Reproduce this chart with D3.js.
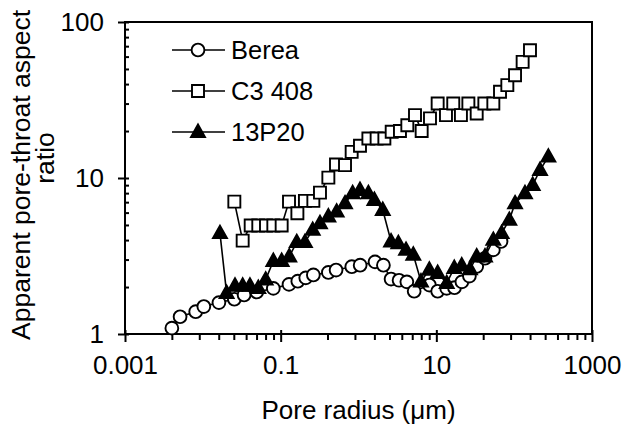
<!DOCTYPE html>
<html>
<head>
<meta charset="utf-8">
<script src="https://cdn.jsdelivr.net/npm/d3@7"></script>
<style>
  html, body { margin: 0; padding: 0; background: #fff; }
  svg { display: block; }
  text { font-family: "Liberation Sans", Arial, sans-serif; fill: #000; }
</style>
</head>
<body>
<svg id="chart" width="632" height="434"></svg>
<script>
// ---------- data ----------
const seriesNames = ["Berea", "C3 408", "13P20"];

const bereaX = [0.0040,0.0051,0.0081,0.0103,0.0161,0.0254,0.0339,0.0493,0.0805,0.128,0.166,0.210,0.263,0.410,0.515,0.82,1.05,1.63,2.09,2.62,3.32,4.18,5.19,8.15,10.4,13.6,17.1,21.3,26.6,33.0,42.2,54.0,67.8];
const bereaY = [1.09,1.29,1.39,1.50,1.59,1.67,1.78,1.86,1.96,2.08,2.18,2.29,2.39,2.48,2.57,2.70,2.76,2.90,2.76,2.25,2.21,2.16,1.88,2.06,1.88,1.96,1.98,2.16,2.35,2.71,3.06,3.46,3.92];

const c3X = [0.0254,0.0325,0.0412,0.0516,0.0648,0.0805,0.103,0.128,0.164,0.205,0.263,0.320,0.410,0.514,0.671,0.817,1.045,1.34,1.71,2.15,2.67,3.41,4.24,5.32,6.48,8.29,10.4,13.3,16.5,20.7,25.8,33.0,41.4,54.0,65.8,81.7,102.6,128.5,159.7];
const c3Y = [7.06,3.97,4.96,4.96,4.96,4.96,4.96,7.06,5.94,7.13,7.13,8.06,10.05,12.2,12.1,14.7,16.1,17.9,17.9,17.9,19.8,20.0,21.8,25.3,20.0,24.1,30.0,25.3,30.0,25.3,30.0,25.9,30.0,30.0,35.7,39.4,45.6,55.5,65.9];

const p13X = [0.0166,0.0202,0.0259,0.0325,0.0403,0.0516,0.0642,0.0805,0.103,0.129,0.161,0.205,0.258,0.320,0.410,0.524,0.671,0.841,1.045,1.34,1.60,2.05,2.62,3.25,4.08,5.06,6.35,8.13,10.4,13.6,17.0,21.2,27.1,33.0,42.2,54.0,69.0,86.7,102.6,137.7,173,215,275];
const p13Y = [4.43,1.83,2.04,2.04,2.04,1.97,2.23,2.94,2.94,3.14,3.88,3.88,4.65,5.13,5.66,6.09,6.88,7.98,8.38,7.98,7.23,6.24,3.92,3.82,3.46,3.22,2.17,2.58,2.46,2.12,2.65,2.75,2.6,3.14,3.14,4.01,4.43,5.39,6.88,7.98,9.02,11.25,13.7];

const xTickValues = [0.001, 0.1, 10, 1000];
const xTickLabels = ["0.001", "0.1", "10", "1000"];
const yTickValues = [1, 10, 100];
const yTickLabels = ["1", "10", "100"];
const xTitle = "Pore radius (\u03bcm)";
const yTitleLines = ["Apparent pore-throat aspect", "ratio"];

// ---------- layout ----------
const L = 125, R = 592, T = 22, B = 334;
const svg = d3.select("#chart");
svg.append("rect").attr("width", 632).attr("height", 434).attr("fill", "#fff");

const x = d3.scaleLog().domain([0.001, 1000]).range([L, R]);
const y = d3.scaleLog().domain([1, 100]).range([B, T]);

// minor ticks
const xMinor = [];
[0.001, 0.1, 10].forEach(m => { for (let k = 2; k <= 9; k++) xMinor.push(m * k * k); });
const yMinor = [];
[1, 10].forEach(m => { for (let k = 2; k <= 9; k++) yMinor.push(m * k); });

const FS = 26;

// x axis
const gx = svg.append("g").attr("transform", `translate(0,${B})`)
  .call(d3.axisBottom(x).tickValues(xTickValues).tickFormat((d, i) => xTickLabels[i])
    .tickSizeInner(8).tickSizeOuter(0).tickPadding(14));
gx.select(".domain").remove();
gx.selectAll(".tick line").attr("y1", -4).attr("stroke", "#000").attr("stroke-width", 2);
gx.selectAll(".tick text").attr("font-size", FS).attr("font-family", "Liberation Sans, Arial, sans-serif").attr("fill", "#000");

const gxm = svg.append("g").attr("transform", `translate(0,${B})`)
  .call(d3.axisBottom(x).tickValues(xMinor).tickFormat("").tickSizeInner(6).tickSizeOuter(0));
gxm.select(".domain").remove();
gxm.selectAll(".tick line").attr("stroke", "#000").attr("stroke-width", 2);

// y axis
const gy = svg.append("g").attr("transform", `translate(${L},0)`)
  .call(d3.axisLeft(y).tickValues(yTickValues).tickFormat((d, i) => yTickLabels[i])
    .tickSizeInner(7).tickSizeOuter(0).tickPadding(14));
gy.select(".domain").remove();
gy.selectAll(".tick line").attr("x1", 4).attr("stroke", "#000").attr("stroke-width", 2);
gy.selectAll(".tick text").attr("font-size", FS).attr("font-family", "Liberation Sans, Arial, sans-serif").attr("fill", "#000");

const gym = svg.append("g").attr("transform", `translate(${L},0)`)
  .call(d3.axisRight(y).tickValues(yMinor).tickFormat("").tickSizeInner(4).tickSizeOuter(0));
gym.select(".domain").remove();
gym.selectAll(".tick line").attr("stroke", "#000").attr("stroke-width", 2);

// frame
svg.append("rect").attr("x", L).attr("y", T).attr("width", R - L).attr("height", B - T)
  .attr("fill", "none").attr("stroke", "#000").attr("stroke-width", 2);

// titles
svg.append("text").attr("x", (L + R) / 2).attr("y", 419).attr("text-anchor", "middle")
  .attr("font-size", 26).text(xTitle);
svg.append("text").attr("transform", `translate(30,175) rotate(-90)`).attr("text-anchor", "middle")
  .attr("font-size", 26.5).text(yTitleLines[0]);
svg.append("text").attr("transform", `translate(54,158) rotate(-90)`).attr("text-anchor", "middle")
  .attr("font-size", 26.5).text(yTitleLines[1]);

// markers
function markerPath(type) {
  if (type === "circle") return d3.symbol(d3.symbolCircle, Math.PI * 6.4 * 6.4)();
  if (type === "square") return "M-6,-6H6V6H-6Z";
  return "M0,-7.5L7,5L-7,5Z";
}
const series = [
  { name: seriesNames[0], xs: bereaX, ys: bereaY, type: "circle", fill: "#fff" },
  { name: seriesNames[1], xs: c3X, ys: c3Y, type: "square", fill: "#fff" },
  { name: seriesNames[2], xs: p13X, ys: p13Y, type: "triangle", fill: "#000" }
];
const line = d3.line().x(d => x(d[0])).y(d => y(d[1]));
series.forEach(s => {
  const pts = s.xs.map((v, i) => [v, s.ys[i]]);
  const g = svg.append("g");
  g.append("path").attr("d", line(pts)).attr("fill", "none").attr("stroke", "#000").attr("stroke-width", 1.6);
  g.selectAll("path.m").data(pts).join("path").attr("class", "m")
    .attr("transform", d => `translate(${x(d[0])},${y(d[1])})`)
    .attr("d", markerPath(s.type)).attr("fill", s.fill).attr("stroke", "#000").attr("stroke-width", 1.9);
});

// legend
const legY = [50, 91, 132];
series.forEach((s, i) => {
  const g = svg.append("g").attr("transform", `translate(0,${legY[i]})`);
  g.append("line").attr("x1", 172).attr("x2", 225).attr("y1", 0).attr("y2", 0).attr("stroke", "#000").attr("stroke-width", 1.6);
  g.append("path").attr("transform", "translate(198,0)").attr("d", markerPath(s.type))
    .attr("fill", s.fill).attr("stroke", "#000").attr("stroke-width", 1.9);
  g.append("text").attr("x", 231).attr("y", 9).attr("font-size", 25.5).text(s.name);
});
</script>
</body>
</html>
